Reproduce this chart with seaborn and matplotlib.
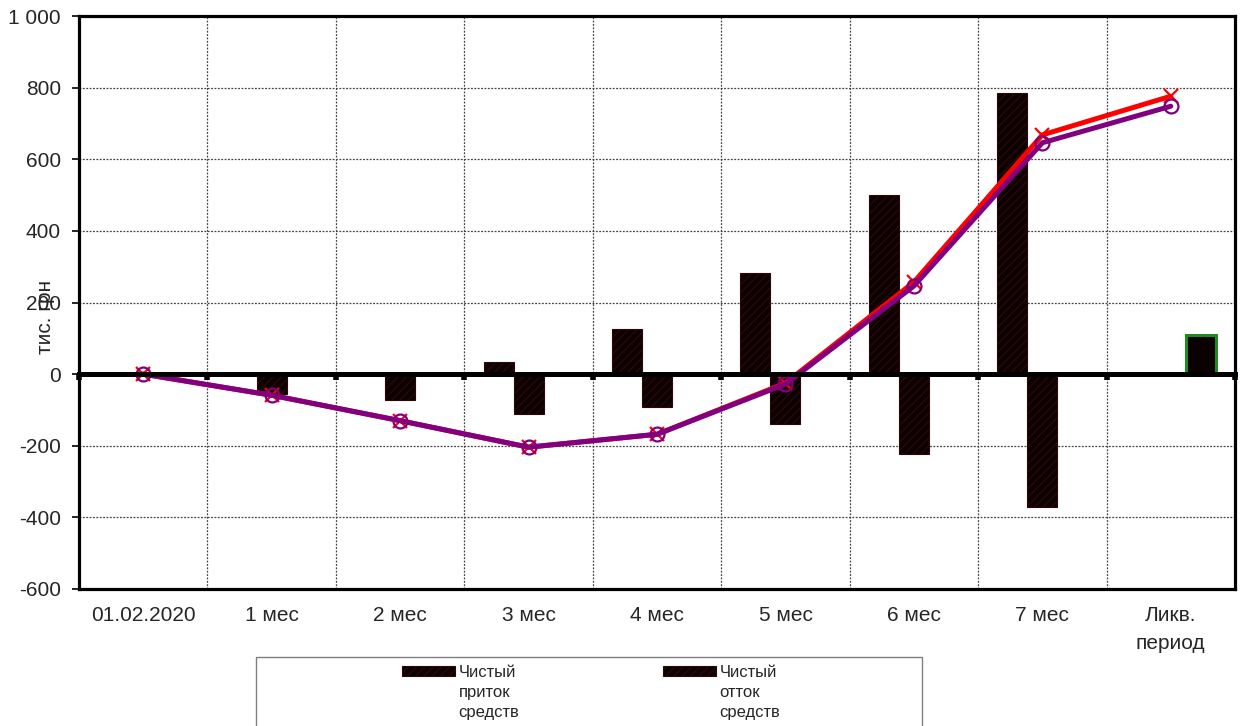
import numpy as np
import pandas as pd
import matplotlib
matplotlib.use("Agg")
import matplotlib.pyplot as plt
from matplotlib.patches import Patch, Rectangle
from matplotlib.legend_handler import HandlerPatch
from matplotlib.ticker import FuncFormatter, MultipleLocator
import seaborn as sns

# ---- data (тис. грн) ----
categories = ["01.02.2020", "1 мес", "2 мес", "3 мес", "4 мес", "5 мес",
              "6 мес", "7 мес", "Ликв.\nпериод"]
inflow = [0, 0, 0, 33, 126, 283, 500, 784, 0]
outflow = [0, -56, -73, -110, -91, -140, -224, -371, 0]
liquidation = [0, 0, 0, 0, 0, 0, 0, 0, 108]
cumulative = [0, -59, -130, -204, -168, -25, 257, 668, 776]
discounted = [0, -59, -130, -204, -168, -28, 246, 646, 748]

series_names = ["Чистый\nприток\nсредств", "Чистый\nотток\nсредств", "Ликвидация"]

rows = []
for name, vals in zip(series_names, [inflow, outflow, liquidation]):
    for cat, v in zip(categories, vals):
        if v != 0:
            rows.append({"cat": cat, "value": v, "series": name})
df = pd.DataFrame(rows)

sns.set_theme(style="white")
plt.rcParams["font.family"] = ["Liberation Sans", "DejaVu Sans"]

fig = plt.figure(figsize=(12.42, 7.26), dpi=100)
ax = fig.add_axes([79 / 1242, 137 / 726, 1156 / 1242, 573 / 726])

bar_fill = "#0b0101"
hatch_col = "#2c0707"
sns.barplot(data=df, x="cat", y="value", hue="series", order=categories,
            hue_order=series_names, width=0.7, dodge=True, errorbar=None,
            palette=[bar_fill, bar_fill, bar_fill], legend=False, ax=ax,
            saturation=1)

# style the bar groups
for i, cont in enumerate(ax.containers):
    for bar in cont:
        if i < 2:
            bar.set_hatch("////")
            bar.set_edgecolor(hatch_col)
            bar.set_linewidth(0.8)
        else:
            bar.set_edgecolor("#1f8a1f")
            bar.set_linewidth(2.2)

xs = np.arange(len(categories))
sns.lineplot(x=xs, y=cumulative, ax=ax, color="#ff0000", linewidth=3.6,
             marker="x", markersize=10, markeredgewidth=1.6,
             markeredgecolor="#ff0000", zorder=4)
sns.lineplot(x=xs, y=discounted, ax=ax, color="#800080", linewidth=3.6,
             marker="o", markersize=10, markerfacecolor="none",
             markeredgewidth=1.6, markeredgecolor="#800080", zorder=5)

ax.set_xlim(-0.5, len(categories) - 0.5)
ax.set_ylim(-600, 1000)
ax.yaxis.set_major_locator(MultipleLocator(200))
ax.yaxis.set_major_formatter(FuncFormatter(lambda v, p: f"{int(round(v)):,}".replace(",", " ")))

ax.set_xticks(xs)
ax.set_xticklabels(categories, fontsize=15, linespacing=1.6)
ax.set_xticks(np.arange(0.5, len(categories) - 0.5, 1), minor=True)
ax.tick_params(axis="x", which="both", length=0, pad=12)
ax.tick_params(axis="y", which="major", length=5, width=1.2, pad=8,
               labelsize=15, left=True, color="black")
ax.set_xlabel("")
ax.set_ylabel("тис. грн", fontsize=15)
ax.yaxis.set_label_coords(-0.021, 0.475)

grid_kw = dict(color="#444444", linestyle=(0, (1.5, 1.2)), linewidth=0.9)
ax.grid(which="minor", axis="x", **grid_kw)
ax.grid(which="major", axis="y", **grid_kw)
ax.grid(which="major", axis="x", visible=False)
ax.set_axisbelow(True)

for s in ax.spines.values():
    s.set_visible(True)
    s.set_color("black")
    s.set_linewidth(2.3)

# zero line with its own tick marks at the category boundaries
ax2 = ax.twiny()
ax2.set_xlim(ax.get_xlim())
for name in ["top", "left", "right"]:
    ax2.spines[name].set_visible(False)
ax2.spines["bottom"].set_position(("data", 0))
ax2.spines["bottom"].set_linewidth(3.6)
ax2.spines["bottom"].set_color("black")
ax2.xaxis.set_ticks_position("bottom")
ax2.set_xticks(np.arange(-0.5, len(categories), 1))
ax2.tick_params(axis="x", length=4, width=4, color="black", labelbottom=False,
                labeltop=False)
ax2.grid(False)
ax2.set_zorder(ax.get_zorder() + 1)
ax2.patch.set_visible(False)

# legend box
fig.patches.append(Rectangle((256 / 1242, -0.02), 666 / 1242, 0.02 + 69 / 726,
                             transform=fig.transFigure, fill=False,
                             edgecolor="#808080", linewidth=1.0))


def top_aligned_patch(legend, orig_handle, xdescent, ydescent, width, height, fontsize):
    # place the swatch next to the first line of the wrapped label
    return Rectangle((-xdescent, -ydescent + 15.5), width, height)


handles = [Patch(facecolor=bar_fill, edgecolor=hatch_col, hatch="////", linewidth=0.8),
           Patch(facecolor=bar_fill, edgecolor=hatch_col, hatch="////", linewidth=0.8)]
fig.legend(handles=handles, labels=series_names[:2], ncol=2, loc="upper left",
           bbox_to_anchor=(402 / 1242, (726 - 665) / 726),
           frameon=False, fontsize=12, handlelength=3.2, handleheight=0.6,
           handletextpad=0.2, columnspacing=8.6, borderpad=0, borderaxespad=0,
           labelspacing=0,
           handler_map={Patch: HandlerPatch(patch_func=top_aligned_patch)})
for t in fig.legends[0].get_texts():
    t.set_linespacing(1.42)

fig.savefig("out.png", dpi=100)
